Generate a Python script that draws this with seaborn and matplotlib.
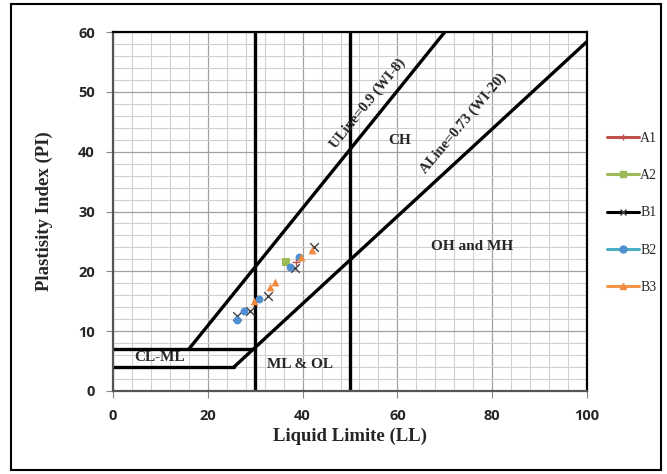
### Carta de plasticidade (Casagrande)
import matplotlib
matplotlib.use("Agg")
import matplotlib.pyplot as plt
from matplotlib.lines import Line2D
from matplotlib.patches import Rectangle
from matplotlib.ticker import MultipleLocator
import seaborn as sns

### Dados
a1_ll = [38.7]
a1_pi = [21.6]
a2_ll = [36.6]
a2_pi = [21.5]
b1_ll = [26.1, 29.0, 32.8, 38.4, 42.3]
b1_pi = [12.5, 13.3, 15.9, 20.5, 24.0]
b2_ll = [26.2, 27.7, 30.9, 37.3, 39.2]
b2_pi = [11.8, 13.3, 15.4, 20.8, 22.4]
b3_ll = [29.7, 33.1, 34.2, 39.7, 42.0]
b3_pi = [15.1, 17.4, 18.3, 22.4, 23.6]

# linhas de referência
uline_ll = [16, 70]
uline_pi = [7, 60]
aline_ll = [25.5, 100]
aline_pi = [4, 58.4]
clml_top_ll = [0, 30]
clml_top_pi = [7, 7]
clml_bot_ll = [0, 25.5]
clml_bot_pi = [4, 4]
vert_ll = [30, 50]

series = [("A1", a1_ll, a1_pi, "+", "#C0504D", "#C0504D"),
          ("A2", a2_ll, a2_pi, "s", "#9BBB59", "#9BBB59"),
          ("B1", b1_ll, b1_pi, "x", "#404040", "black"),
          ("B2", b2_ll, b2_pi, "o", "#4F8FD0", "#4BACC6"),
          ("B3", b3_ll, b3_pi, "^", "#F08A3E", "#F79646")]

sns.set_theme(style = "white")
serif = ["Liberation Serif", "DejaVu Serif"]

fig = plt.figure(figsize = (6.67, 4.74), dpi = 100)
ax = fig.add_axes([113/667, 1 - 391/474, (587 - 113)/667, (391 - 32)/474])

ax.set_xlim(0, 100)
ax.set_ylim(0, 60)
ax.xaxis.set_major_locator(MultipleLocator(20))
ax.xaxis.set_minor_locator(MultipleLocator(4))
ax.yaxis.set_major_locator(MultipleLocator(10))
ax.yaxis.set_minor_locator(MultipleLocator(2))
ax.grid(which = "major", color = "#a0a0a0", linewidth = 0.9)
ax.grid(which = "minor", color = "#d0d0d0", linewidth = 0.8)
ax.set_axisbelow(True)

lw = 2.4
for x in vert_ll:
    ax.axvline(x, color = "black", linewidth = lw, zorder = 2)
ax.plot(uline_ll, uline_pi, color = "black", linewidth = lw, zorder = 2, solid_capstyle = "butt")
ax.plot(aline_ll, aline_pi, color = "black", linewidth = lw, zorder = 2, solid_capstyle = "butt")
ax.plot(clml_top_ll, clml_top_pi, color = "black", linewidth = lw, zorder = 2)
ax.plot(clml_bot_ll, clml_bot_pi, color = "black", linewidth = lw, zorder = 2)

for nome, ll, pi, mk, cor, _ in series:
    filled = mk not in ("+", "x")
    sns.scatterplot(x = ll, y = pi, marker = mk, color = cor, ax = ax, zorder = 3,
                    s = 32 if filled else 38, linewidth = 0 if filled else 1.0,
                    edgecolor = None if filled else cor)

### Textos
fs = 11
ax.text(60.5, 41.8, "CH", fontsize = fs, fontweight = "bold", family = serif, ha = "center", va = "center")
ax.text(75.7, 24.1, "OH and MH", fontsize = fs, fontweight = "bold", family = serif, ha = "center", va = "center")
ax.text(9.9, 5.6, "CL-ML", fontsize = fs, fontweight = "bold", family = serif, ha = "center", va = "center")
ax.text(39.5, 4.5, "ML & OL", fontsize = fs, fontweight = "bold", family = serif, ha = "center", va = "center")
ax.text(53.8, 48.0, "ULine=0.9 (WI-8)", fontsize = 10.5, fontweight = "bold", family = serif,
        ha = "center", va = "center", rotation = 51)
ax.text(74.0, 44.8, "ALine=0.73 (WI-20)", fontsize = 10.5, fontweight = "bold", family = serif,
        ha = "center", va = "center", rotation = 50)

### Eixos
for s in ax.spines.values():
    s.set_color("black")
    s.set_linewidth(1.6)
ax.spines["left"].set_color("#555555")
ax.spines["bottom"].set_color("#555555")
ax.tick_params(which = "major", direction = "out", length = 5, width = 0.8, color = "#888888",
               bottom = True, left = True, labelsize = 10.5, pad = 8)
ax.tick_params(which = "minor", length = 0)
for lab in ax.get_xticklabels() + ax.get_yticklabels():
    lab.set_fontweight("bold")
    lab.set_family(["Open Sans", "DejaVu Sans"])
ax.set_xlabel("Liquid Limite (LL)", fontsize = 13.5, fontweight = "bold", family = serif, labelpad = 3)
ax.set_ylabel("Plastisity Index (PI)", fontsize = 13.5, fontweight = "bold", family = serif, labelpad = 18)

### Legenda
handles = [Line2D([0], [0], color = lc, marker = mk, markersize = 5, markerfacecolor = cor,
                  markeredgecolor = cor, linewidth = 2.2) for _, _, _, mk, cor, lc in series]
labels = [s[0] for s in series]
fig.legend(handles, labels, loc = "center left", bbox_to_anchor = (607/667, 1 - 213/474),
           frameon = False, prop = {"family": serif, "size": 10}, handlelength = 2.3,
           handletextpad = 0.1, labelspacing = 1.75, borderpad = 0, borderaxespad = 0)

fig.patches.append(Rectangle((11/667, 4/474), 650/667, 466/474, transform = fig.transFigure,
                             fill = False, edgecolor = "black", linewidth = 1.5))

fig.savefig("out.png", dpi = 100)
